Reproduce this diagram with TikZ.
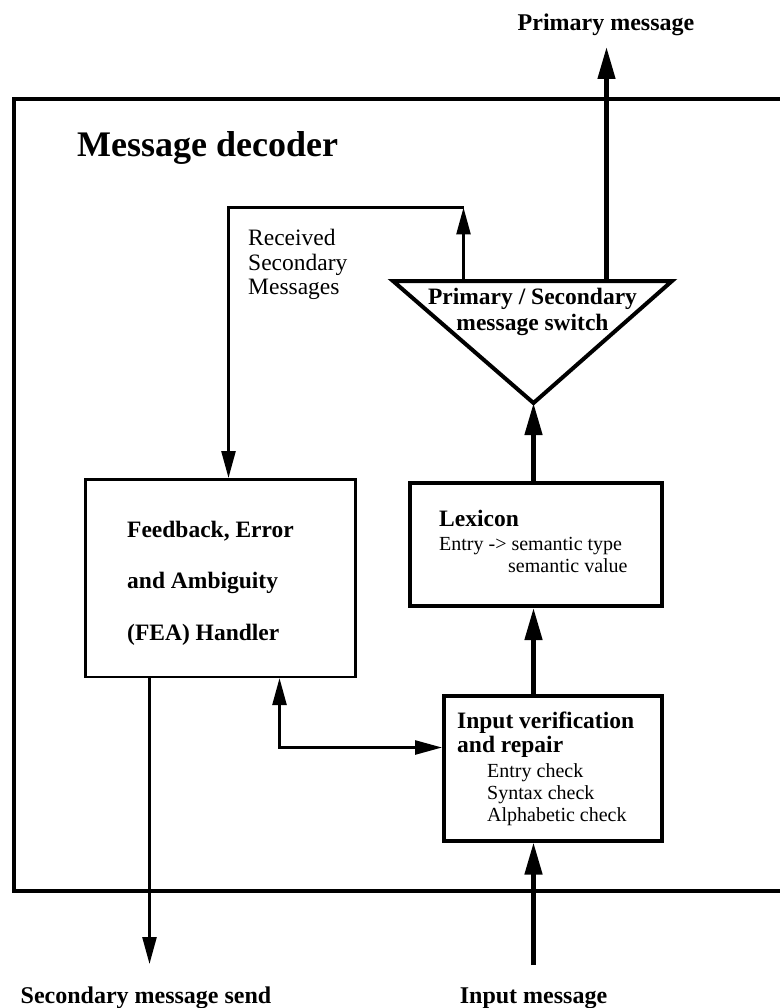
\documentclass[tikz,border=0pt]{standalone}
\usepackage{fontspec}
\setmainfont{Liberation Serif}
\usetikzlibrary{arrows.meta,calc}

\begin{document}
\begin{tikzpicture}[x=1pt,y=-1pt,
  heavybox/.style={draw, line width=4pt, anchor=north west, inner sep=0pt},
  lightbox/.style={draw, line width=2.6pt, anchor=north west, inner sep=0pt},
  heavyarrow/.style={line width=4.5pt, -{Triangle[length=32pt,width=17pt]}},
  lightarrow/.style={line width=2.6pt, -{Triangle[length=27pt,width=14pt]}},
  headtext/.style={font=\fontsize{23.5}{26}\selectfont\bfseries, inner sep=0pt},
  bodytext/.style={font=\fontsize{20}{22}\selectfont, inner sep=0pt},
  looptext/.style={font=\fontsize{23.5}{26}\selectfont, inner sep=0pt, anchor=base west},
  portlabel/.style={font=\fontsize{24}{28}\selectfont\bfseries, inner sep=0pt, anchor=base}
]
\useasboundingbox (0,0) rectangle (779,1008);

% decoder frame (open on the right)
\draw[line width=4pt] (782,99) -- (14,99) -- (14,891) -- (782,891);
\node[inner sep=0pt, anchor=base west, font=\fontsize{36}{40}\selectfont\bfseries] (title) at (77,157) {Message decoder};

% primary / secondary switch (inverted triangle)
\coordinate (swleft) at (393,281);
\coordinate (swright) at (672,281);
\coordinate (apex) at (533.5,403);
\draw[line width=4pt, line join=miter] (swleft) -- (swright) -- (apex) -- cycle;
\node[headtext, anchor=base] (swA) at (532.5,304) {Primary / Secondary};
\node[headtext, anchor=base] (swB) at (532.5,330) {message switch};
\coordinate (primfoot) at (606.5,281);
\coordinate (primtip) at (606.5,47);
\coordinate (secfoot) at (463.5,281);
\coordinate (sectip) at (463.5,207.5);
\coordinate (seccorner) at (228.5,207.5);

% lexicon
\node[heavybox, minimum width=252.5pt, minimum height=123.5pt] (lex) at (407.5,480.5) {};
\node[headtext, anchor=base west] (lexA) at (439,526) {Lexicon};
\node[bodytext, anchor=base west] (lexB) at (439,550) {Entry -> semantic type};
\node[bodytext, anchor=base west] (lexC) at (508,572) {semantic value};

% input verification and repair
\node[heavybox, minimum width=218pt, minimum height=144.5pt] (ivr) at (442,694) {};
\node[headtext, anchor=base west] (ivrA) at (457,728) {Input verification};
\node[headtext, anchor=base west] (ivrB) at (457,752) {and repair};
\node[bodytext, anchor=base west] (ivrC) at (487,777) {Entry check};
\node[bodytext, anchor=base west] (ivrD) at (487,799) {Syntax check};
\node[bodytext, anchor=base west] (ivrE) at (487,821) {Alphabetic check};

% feedback, error and ambiguity handler
\node[lightbox, minimum width=270pt, minimum height=197.5pt] (fea) at (84,478) {};
\node[headtext, anchor=base west] (feaA) at (127,537) {Feedback, Error};
\node[headtext, anchor=base west] (feaB) at (127,588) {and Ambiguity};
\node[headtext, anchor=base west] (feaC) at (127,640) {(FEA) Handler};

\node[looptext] (recA) at (248,245) {Received};
\node[looptext] (recB) at (248,270) {Secondary};
\node[looptext] (recC) at (248,294) {Messages};

% external ports
\node[portlabel] (primlbl) at (606,31) {Primary message};
\node[portlabel] (seclbl) at (146,1003) {Secondary message send};
\node[portlabel] (inlbl) at (533.5,1003) {Input message};
\coordinate (instart) at (533.5,965);
\coordinate (secend) at (149.5,964);

% main data path
\draw[heavyarrow] (instart) -- (instart |- ivr.south);
\draw[heavyarrow] (ivr.north -| instart) -- (lex.south -| instart);
\draw[heavyarrow] (lex.north -| apex) -- (apex);
\draw[heavyarrow] (primfoot) -- (primtip);

% secondary message loop
\draw[lightarrow] (secfoot) -- (sectip);
\draw[lightarrow, line join=miter] (sectip) -- (seccorner) -- (seccorner |- fea.north);
\draw[lightarrow] (fea.south -| secend) -- (secend);
\draw[line width=2.6pt, {Triangle[length=27pt,width=14pt]}-{Triangle[length=27pt,width=14pt]}, line join=miter]
  ([xshift=195.5pt]fea.south west) |- ([yshift=-53.5pt]ivr.north west);
\end{tikzpicture}
\end{document}
